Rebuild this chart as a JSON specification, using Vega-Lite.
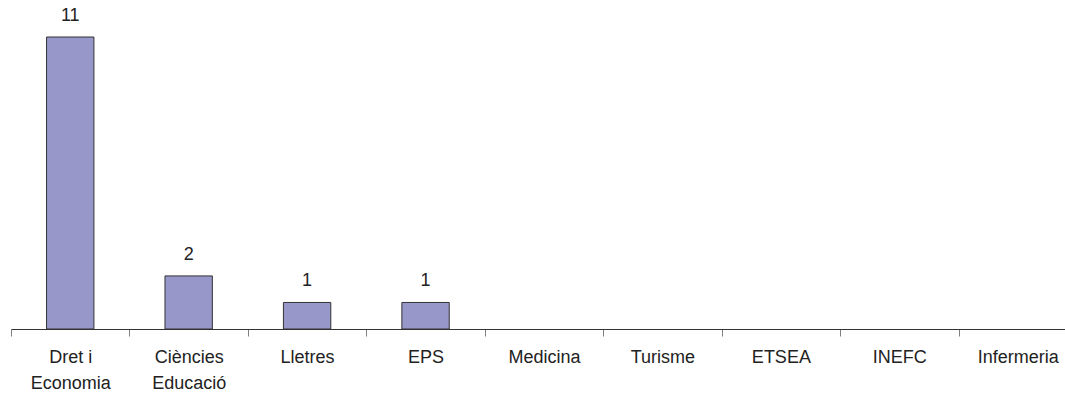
{
  "$schema": "https://vega.github.io/schema/vega-lite/v6.json",
  "width": 1054,
  "height": 292,
  "autosize": "none",
  "padding": {"left": 11, "top": 37, "right": 0, "bottom": 67},
  "background": "white",
  "config": {"view": {"stroke": null}, "font": "Liberation Sans"},
  "data": {"values": [
    {"facultat": "Dret i Economia", "value": 11},
    {"facultat": "Ciències Educació", "value": 2},
    {"facultat": "Lletres", "value": 1},
    {"facultat": "EPS", "value": 1},
    {"facultat": "Medicina", "value": 0},
    {"facultat": "Turisme", "value": 0},
    {"facultat": "ETSEA", "value": 0},
    {"facultat": "INEFC", "value": 0},
    {"facultat": "Infermeria", "value": 0}
  ]},
  "transform": [{"filter": "datum.value > 0"}],
  "encoding": {
    "x": {
      "field": "facultat", "type": "nominal", "sort": null,
      "scale": {
        "domain": ["Dret i Economia", "Ciències Educació", "Lletres", "EPS", "Medicina", "Turisme", "ETSEA", "INEFC", "Infermeria"],
        "range": [0, 1066], "paddingInner": 0, "paddingOuter": 0
      },
      "axis": {
        "title": null, "labelAngle": 0, "tickBand": "extent",
        "labelFontSize": 18, "labelColor": "#222222", "labelPadding": 12,
        "labelLineHeight": 26,
        "labelExpr": "datum.label == 'Dret i Economia' ? ['Dret i', 'Economia'] : datum.label == 'Ciències Educació' ? ['Ciències', 'Educació'] : datum.label",
        "tickSize": 7, "tickColor": "#808080", "domainColor": "#333333",
        "grid": false
      }
    },
    "y": {
      "field": "value", "type": "quantitative",
      "scale": {"domain": [0, 11], "nice": false},
      "axis": null
    }
  },
  "layer": [
    {"mark": {"type": "bar", "width": {"band": 0.4}, "fill": "#9797c9", "stroke": "#333333", "strokeWidth": 1}},
    {"mark": {"type": "text", "baseline": "alphabetic", "dy": -16, "fontSize": 18, "color": "#222222"},
     "encoding": {"text": {"field": "value", "type": "quantitative"}}}
  ]
}
